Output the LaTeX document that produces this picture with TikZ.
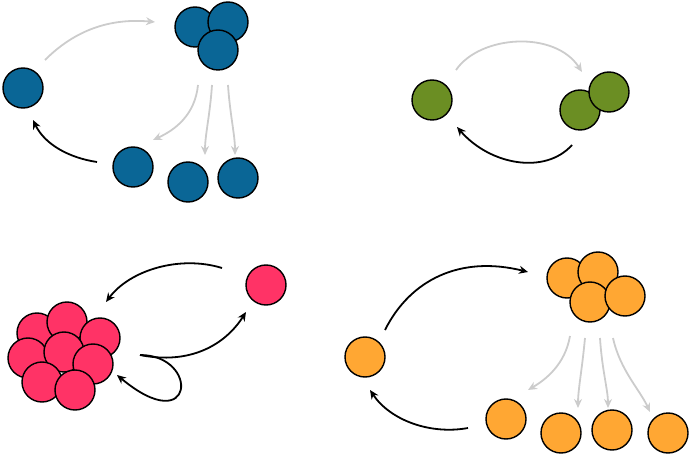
\documentclass[tikz,border=0pt]{standalone}
\usetikzlibrary{arrows.meta}
\definecolor{cb}{RGB}{10,102,150}
\definecolor{cg}{RGB}{107,142,35}
\definecolor{cp}{RGB}{255,51,102}
\definecolor{co}{RGB}{255,167,51}
\begin{document}
\begin{tikzpicture}[x=1pt,y=-1pt,
 ball/.style={circle,draw=black,line width=1.4pt,minimum size=40pt,inner sep=0pt},
 ga/.style={-{Stealth[length=9pt,width=8pt]},draw=black!20,line width=1.8pt},
 ba/.style={-{Stealth[length=9pt,width=8pt]},draw=black,line width=1.8pt}]
\useasboundingbox (0,0) rectangle (691,457);
% blue
\node[ball,fill=cb] (b1) at (23,88) {};
\node[ball,fill=cb] (b2) at (195,27) {};
\node[ball,fill=cb] (b3) at (228,22) {};
\node[ball,fill=cb] (b4) at (218,50) {};
\node[ball,fill=cb] (b5) at (133,167) {};
\node[ball,fill=cb] (b6) at (188,182) {};
\node[ball,fill=cb] (b7) at (238,178) {};
\coordinate (bs1) at (45,60); \coordinate (be1) at (155,22);
\draw[ga] (bs1) .. controls (75,30) and (110,18) .. (be1);
\coordinate (bs2) at (198,85); \coordinate (be2) at (153,140);
\draw[ga] (bs2) .. controls (195,115) and (175,130) .. (be2);
\coordinate (bs3) at (212,85); \coordinate (be3) at (205,155);
\draw[ga] (bs3) .. controls (210,115) and (205,135) .. (be3);
\coordinate (bs4) at (228,85); \coordinate (be4) at (235,155);
\draw[ga] (bs4) .. controls (230,115) and (235,135) .. (be4);
\coordinate (bs5) at (97,162); \coordinate (be5) at (33,120);
\draw[ba] (bs5) .. controls (70,158) and (45,145) .. (be5);
% green
\node[ball,fill=cg] (g1) at (432,100) {};
\node[ball,fill=cg] (g2) at (580,110) {};
\node[ball,fill=cg] (g3) at (609,92) {};
\coordinate (gs1) at (456,70); \coordinate (ge1) at (582,72);
\draw[ga] (gs1) .. controls (480,35) and (555,30) .. (ge1);
\coordinate (gs2) at (572,145); \coordinate (ge2) at (457,127);
\draw[ba] (gs2) .. controls (545,175) and (490,165) .. (ge2);
% pink
\node[ball,fill=cp] (p0) at (266,285) {};
\foreach \n/\x/\y in {1/37/333,2/67/322,3/100/338,4/28/358,5/64/352,6/93/364,7/42/382,8/75/390}
  \node[ball,fill=cp] (p\n) at (\x,\y) {};
\coordinate (ps1) at (222,268); \coordinate (pe1) at (106,302);
\draw[ba] (ps1) .. controls (180,255) and (130,270) .. (pe1);
\coordinate (ps2) at (140,355); \coordinate (pe2) at (246,312);
\draw[ba] (ps2) .. controls (190,365) and (225,345) .. (pe2);
\coordinate (pe3) at (117,375);
\draw[ba] (ps2) .. controls (200,355) and (195,440) .. (pe3);
% orange
\node[ball,fill=co] (o0) at (365,357) {};
\node[ball,fill=co] (o1) at (567,278) {};
\node[ball,fill=co] (o2) at (598,272) {};
\node[ball,fill=co] (o3) at (590,302) {};
\node[ball,fill=co] (o4) at (625,296) {};
\node[ball,fill=co] (o5) at (506,419) {};
\node[ball,fill=co] (o6) at (561,433) {};
\node[ball,fill=co] (o7) at (612,430) {};
\node[ball,fill=co] (o8) at (668,433) {};
\coordinate (os1) at (385,330); \coordinate (oe1) at (528,272);
\draw[ba] (os1) .. controls (410,280) and (460,255) .. (oe1);
\coordinate (os2) at (468,428); \coordinate (oe2) at (370,390);
\draw[ba] (os2) .. controls (430,435) and (390,420) .. (oe2);
\coordinate (os3) at (570,336); \coordinate (oe3) at (528,390);
\draw[ga] (os3) .. controls (565,365) and (545,380) .. (oe3);
\coordinate (os4) at (585,338); \coordinate (oe4) at (578,408);
\draw[ga] (os4) .. controls (582,370) and (578,390) .. (oe4);
\coordinate (os5) at (600,338); \coordinate (oe5) at (608,408);
\draw[ga] (os5) .. controls (602,370) and (608,390) .. (oe5);
\coordinate (os6) at (613,338); \coordinate (oe6) at (650,412);
\draw[ga] (os6) .. controls (620,370) and (640,390) .. (oe6);
\end{tikzpicture}
\end{document}
